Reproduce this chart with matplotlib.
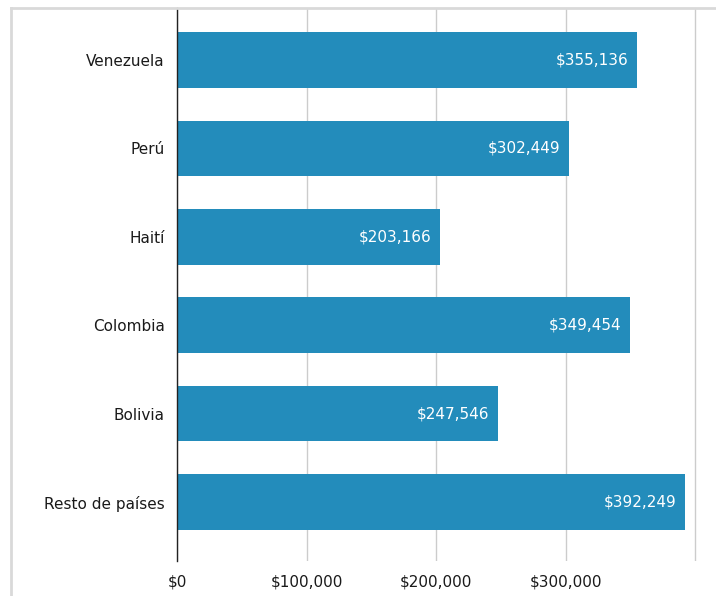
import matplotlib.pyplot as plt
from matplotlib.lines import Line2D
from matplotlib.ticker import FuncFormatter

# Data
countries = ['Venezuela', 'Perú', 'Haití', 'Colombia', 'Bolivia', 'Resto de países']
amounts = [355136, 302449, 203166, 349454, 247546, 392249]
xticks = [0, 100000, 200000, 300000, 400000]

bar_color = '#238cbb'
plt.rcParams['font.family'] = ['DejaVu Sans']

fig = plt.figure(figsize=(7.16, 5.96), dpi=100)
ax = fig.add_axes([177/716, 1 - 561/596, (698 - 177)/716, (561 - 8)/596])

ypos = list(range(len(countries)))
bars = ax.barh(ypos, amounts, height=0.63, color=bar_color, zorder=3)

for b, v in zip(bars, amounts):
    ax.text(b.get_width() - 6500, b.get_y() + b.get_height()/2, f'${v:,}',
            ha='right', va='center', color='white', fontsize=11, zorder=4)

ax.set_yticks(ypos)
ax.set_yticklabels(countries, fontsize=11, color='#1a1a1a')
ax.set_ylim(len(countries) - 1 + 0.667, -0.588)
ax.set_xlim(0, 402300)
ax.set_xticks(xticks)
ax.xaxis.set_major_formatter(FuncFormatter(lambda x, p: '' if x >= 400000 else f'${x:,.0f}'))
ax.tick_params(axis='x', length=0, pad=10, labelsize=11, labelcolor='#1a1a1a')
ax.tick_params(axis='y', length=0, pad=9)
ax.grid(axis='x', color='#cccccc', linewidth=1, zorder=0)

for s in ['top', 'right', 'bottom']:
    ax.spines[s].set_visible(False)
ax.spines['left'].set_color('#222222')
ax.spines['left'].set_linewidth(1)
ax.spines['left'].set_zorder(5)

# light frame (left and top edges)
fig.add_artist(Line2D([10.5/716, 10.5/716], [0, 1 - 7.5/596], color='#d9d9d9', linewidth=2, transform=fig.transFigure))
fig.add_artist(Line2D([10.5/716, 1], [1 - 7.5/596, 1 - 7.5/596], color='#d9d9d9', linewidth=2, transform=fig.transFigure))

fig.savefig('out.png', dpi=100)
